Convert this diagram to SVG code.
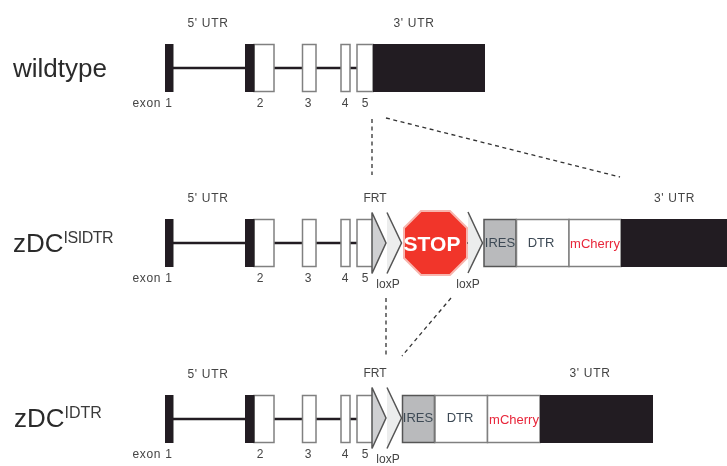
<svg xmlns="http://www.w3.org/2000/svg" width="727" height="466" viewBox="0 0 727 466">
<style>
text{font-family:"Liberation Sans",Arial,sans-serif;fill:#2b2b2b}
.sm{font-size:12px;text-anchor:middle;fill:#444}
.ex{font-size:12px;text-anchor:middle;fill:#444;letter-spacing:.7px}
.title{font-size:26px}
.sup{font-size:16px;fill:#3a3a3a}
.blk{fill:#231f20;stroke:none}
.wht{fill:#fff;stroke:#808080;stroke-width:1.5}
.ln{stroke:#231f20;stroke-width:2.500;fill:none}
.dash{stroke:#333;stroke-width:1.300;stroke-dasharray:4 3.500;fill:none}
.res{fill:#b9babc;stroke:#555;stroke-width:1.500}
.tri{fill:#eceded;stroke:#555;stroke-width:1.500}
.trig{fill:#cfd0d2;stroke:#555;stroke-width:1.500}
.lab{font-size:13px;text-anchor:middle;fill:#3d4a55}
.mc{font-size:13px;text-anchor:middle;fill:#e8263a}
</style>
<defs>
<filter id="soft" x="0" y="0" width="100%" height="100%"><feGaussianBlur stdDeviation="0.45"/></filter>
<g id="exons">
<path class="ln" d="M173 0H245M274 0H302M316 0H341M350 0H357"/>
<rect class="blk" x="165" y="-24" width="8.500" height="48"/>
<rect class="wht" x="254" y="-23.500" width="20" height="47"/>
<rect class="blk" x="245" y="-24" width="9.500" height="48"/>
<rect class="wht" x="302.500" y="-23.500" width="13.500" height="47"/>
<rect class="wht" x="341" y="-23.500" width="9" height="47"/>
<rect class="wht" x="357" y="-23.500" width="16" height="47"/>
</g>
<g id="exonlabels">
<text class="ex" x="152.500" y="38.500">exon 1</text>
<text class="sm" x="260" y="38.500">2</text>
<text class="sm" x="308" y="38.500">3</text>
<text class="sm" x="345" y="38.500">4</text>
<text class="sm" x="365" y="38.500">5</text>
<text class="ex" x="208" y="-41">5' UTR</text>
</g>
<g id="sites">
<path class="trig" d="M372 -30.500L386 0L372 30.500Z"/>
<path class="tri" d="M387 -30.500L401.500 0L387 30.500"/>
</g>
</defs>
<g filter="url(#soft)">
<g id="connectors">
<path class="dash" d="M372 119V175"/>
<path class="dash" d="M386 118L620 177"/>
<path class="dash" d="M386 298V356"/>
<path class="dash" d="M451 298L402 356"/>
</g>
<g id="wildtype">
<text class="title" x="13" y="77">wildtype</text>
<use href="#exons" y="68"/>
<use href="#exonlabels" y="68"/>
<rect class="blk" x="373" y="44" width="112" height="48"/>
<text class="ex" x="414" y="27">3' UTR</text>
</g>
<g id="zDC-ISIDTR">
<text class="title" x="13" y="252">zDC<tspan class="sup" dy="-9" letter-spacing="-.5">ISIDTR</tspan></text>
<use href="#exons" y="243"/>
<use href="#exonlabels" y="243"/>
<text class="sm" x="375" y="202">FRT</text>
<use href="#sites" y="243"/>
<text class="sm" x="388" y="288">loxP</text>
</g>
<g id="stop">
<polygon fill="#f1352a" stroke="#f7b5ae" stroke-width="2" points="421,211 450,211 467,228 467,258 450,275 421,275 404,258 404,228"/>
<text x="432" y="251" font-size="21" font-weight="700" text-anchor="middle" style="fill:#fff">STOP</text>
<rect x="467.500" y="242" width="2" height="2" fill="#231f20"/>
</g>
<g id="loxP-2">
<path class="tri" d="M468 212L482.500 243L468 273"/>
<text class="sm" x="468" y="288">loxP</text>
</g>
<g id="cassette-1">
<rect class="res" x="484" y="219.500" width="32" height="47"/>
<text class="lab" x="500" y="246.500">IRES</text>
<rect class="wht" x="516.500" y="219.500" width="52.500" height="47"/>
<text class="lab" x="541" y="246.500">DTR</text>
<rect class="wht" x="569" y="219.500" width="52" height="47"/>
<text class="mc" x="595" y="248">mCherry</text>
<rect class="blk" x="621" y="219" width="106" height="48"/>
<text class="ex" x="674.500" y="202">3' UTR</text>
</g>
<g id="zDC-IDTR">
<text class="title" x="14" y="427">zDC<tspan class="sup" dy="-9">IDTR</tspan></text>
<use href="#exons" y="419"/>
<use href="#exonlabels" y="419"/>
<text class="sm" x="375" y="377">FRT</text>
<use href="#sites" y="418"/>
<text class="sm" x="388" y="463">loxP</text>
</g>
<g id="cassette-2">
<rect class="res" x="402.500" y="395.500" width="32" height="47"/>
<text class="lab" x="418" y="421.500">IRES</text>
<rect class="wht" x="435" y="395.500" width="52.500" height="47"/>
<text class="lab" x="460" y="421.500">DTR</text>
<rect class="wht" x="487.500" y="395.500" width="52.500" height="47"/>
<text class="mc" x="514" y="424">mCherry</text>
<rect class="blk" x="540" y="395" width="113" height="48"/>
<text class="ex" x="590" y="377">3' UTR</text>
</g>
</g>
</svg>
